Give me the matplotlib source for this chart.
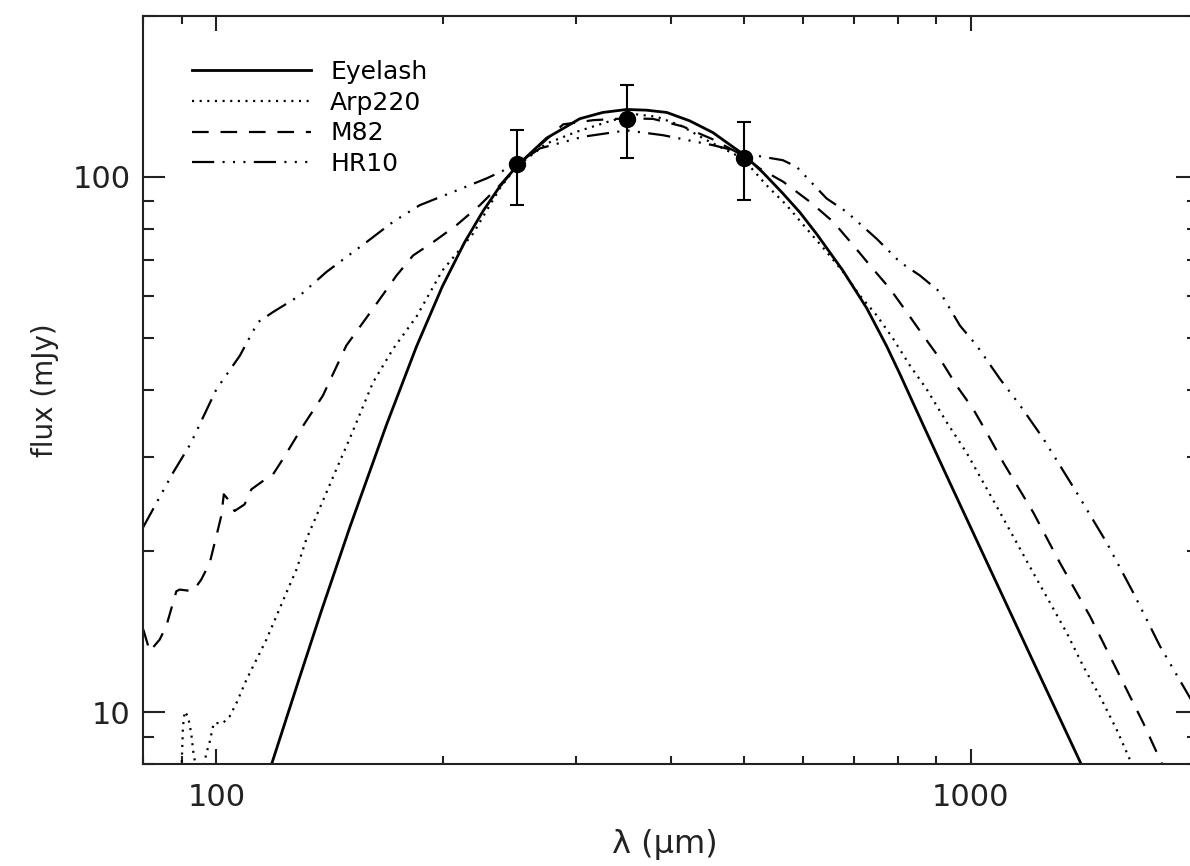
import matplotlib
matplotlib.use("Agg")
from matplotlib import pyplot as plt
from matplotlib import ticker
import numpy as np

# SED templates scaled to the Eyelash photometry (wavelength in micron, flux in mJy)
eyelash_wl = [117.7, 129.0, 137.8, 150.2, 168.1, 184.2, 199.3, 213.5, 225.7, 237.5,
              250.0, 274.0, 303.3, 325.3, 350.0, 371.7, 395.4, 424.3, 455.1, 498.9,
              530.3, 563.7, 593.8, 624.9, 677.0, 727.8, 773.6, 805.8, 835.3, 869.9,
              938.7, 1071.5, 1209.6, 1379.6, 1418.0]
eyelash_flux = [7.80, 11.64, 15.46, 22.10, 34.43, 48.19, 62.37, 75.6, 86.3, 95.9,
                104.7, 118.1, 128.4, 131.9, 133.6, 133.2, 131.9, 127.2, 121.0, 110.3,
                101.9, 93.1, 85.8, 78.2, 66.8, 56.9, 48.3, 42.8, 38.3, 33.8,
                26.8, 17.96, 12.45, 8.38, 7.71]

arp_wl = [89.9, 90.3, 90.8, 91.7, 92.6, 93.3, 94.2, 96.0, 97.0, 98.0, 99.2, 102.0,
          104.1, 106.3, 109.6, 113.0, 116.5, 120.1, 123.8, 127.7, 131.6, 135.7,
          139.9, 144.2, 150.2, 161.3, 171.5, 184.2, 199.3, 218.9, 237.5, 250.0,
          274.0, 300.3, 335.7, 360.6, 383.4, 411.6, 446.5, 498.9, 536.4, 570.2,
          606.0, 644.2, 677.6, 713.2, 750.6, 789.5, 830.8, 874.4, 929.3, 987.9,
          1039.2, 1093.8, 1150.9, 1210.6, 1274.2, 1340.9, 1410.6, 1484.4, 1561.7,
          1626.6, 1651.7]
arp_flux = [7.8, 9.40, 10.03, 9.81, 9.14, 8.32, 7.8, 7.8, 8.38, 8.81, 9.54, 9.54,
            9.81, 10.39, 11.49, 12.53, 13.66, 15.1, 16.7, 18.47, 21.03, 23.25,
            25.7, 28.4, 32.4, 41.3, 47.7, 54.8, 66.8, 78.3, 95.1, 104.5,
            115.4, 121.4, 127.6, 130.8, 129.5, 124.9, 117.1, 108.2, 96.4, 88.5,
            80.0, 72.4, 66.4, 60.0, 55.1, 49.8, 44.4, 40.1, 34.8, 30.5,
            26.85, 23.6, 20.72, 18.2, 16.0, 14.06, 12.17, 10.69, 9.27,
            8.14, 7.8]

m82_wl = [80.0, 81.6, 84.1, 85.8, 88.5, 89.4, 93.1, 95.5, 98.0, 100.0, 101.5, 102.3,
          103.6, 105.7, 109.0, 111.3, 115.3, 118.9, 122.5, 130.3, 138.4, 148.7,
          161.3, 173.3, 182.3, 193.8, 208.1, 223.5, 237.5, 250.0, 288.2, 315.8,
          350.0, 379.3, 415.3, 455.1, 498.9, 525.5, 564.3, 612.3, 657.3, 698.8,
          735.4, 781.6, 822.5, 865.3, 910.7, 958.2, 1008.0, 1050.0, 1104.6, 1210.6,
          1313.3, 1439.6, 1561.7, 1693.8, 1793.4, 1820.0]
m82_flux = [14.27, 12.99, 13.66, 14.46, 16.82, 16.94, 16.82, 17.69, 19.01, 21.33, 23.25,
            25.52, 24.98, 23.75, 24.44, 26.08, 27.03, 27.82, 29.69, 34.26, 39.0,
            48.4, 56.7, 65.4, 71.3, 75.5, 81.2, 88.5, 96.4, 104.5, 125.3, 127.6,
            128.6, 128.3, 124.2, 117.5, 109.6, 103.6, 97.9, 89.8, 82.4, 74.5,
            68.3, 61.8, 55.9, 50.5, 45.7, 40.7, 36.8, 33.3, 29.26, 23.6,
            19.0, 15.1, 12.0, 9.54, 8.0, 7.7]

hr10_wl = [79.9, 83.3, 87.6, 92.4, 100.0, 107.4, 113.5, 118.9, 129.0, 139.9, 158.1,
           171.5, 186.0, 205.9, 228.1, 250.0, 268.5, 306.1, 350.0, 390.9, 455.1,
           514.4, 563.7, 587.8, 644.2, 684.6, 750.6, 805.8, 856.6, 910.7, 968.0,
           1018.5, 1093.8, 1162.9, 1248.6, 1382.4, 1515.4, 1643.2, 1782.8, 1914.2,
           2000.0]
hr10_flux = [22.1, 24.6, 28.0, 31.7, 40.1, 46.3, 53.5, 55.9, 60.0, 66.4, 75.5,
             82.4, 88.5, 93.7, 99.3, 105.5, 113.0, 118.8, 122.1, 119.6, 114.6,
             109.8, 107.4, 104.4, 91.1, 86.0, 76.6, 69.3, 65.4, 60.9, 52.7,
             48.4, 41.9, 37.4, 32.4, 25.7, 20.7, 16.7, 13.27, 11.17,
             10.04]

# BLAST photometry
obs_wl = [250, 350, 500]
obs_flux = [105.5, 128.2, 108.5]
obs_err = [17, 20, 18]

plt.rcParams['font.family'] = ['DejaVu Sans']
plt.rcParams['lines.scale_dashes'] = False

fig = plt.figure(figsize=(11.9, 8.66), dpi=100)
ax = fig.add_axes([0.1204, 0.1178, 0.8861, 0.8641])

lw = 1.6
ax.plot(eyelash_wl, eyelash_flux, color='black', lw=2.0, label='Eyelash')
ax.plot(arp_wl, arp_flux, color='black', lw=lw, linestyle=(0, (1.5, 4.0)), label='Arp220')
ax.plot(m82_wl, m82_flux, color='black', lw=lw, linestyle=(0, (12, 8.5)), label='M82')
ax.plot(hr10_wl, hr10_flux, color='black', lw=lw,
        linestyle=(0, (16, 6, 1.5, 6, 1.5, 6, 1.5, 6)), label='HR10')

ax.errorbar(obs_wl, obs_flux, yerr=obs_err, fmt='o', color='black', ms=11.5,
            elinewidth=1.5, capsize=4.8, capthick=1.5)

ax.set_xscale('log')
ax.set_yscale('log')
ax.set_xlim(80, 2000)
ax.set_ylim(8, 200)

ax.xaxis.set_major_locator(ticker.FixedLocator([100, 1000]))
ax.yaxis.set_major_locator(ticker.FixedLocator([10, 100]))
ax.xaxis.set_major_formatter(ticker.FormatStrFormatter('%d'))
ax.yaxis.set_major_formatter(ticker.FormatStrFormatter('%d'))
ax.xaxis.set_minor_locator(ticker.LogLocator(base=10, subs=np.arange(2, 10)))
ax.yaxis.set_minor_locator(ticker.LogLocator(base=10, subs=np.arange(2, 10)))
ax.xaxis.set_minor_formatter(ticker.NullFormatter())
ax.yaxis.set_minor_formatter(ticker.NullFormatter())

ax.tick_params(which='both', direction='in', top=True, right=True, width=1.5,
               labelsize=22, colors='#222222')
ax.tick_params(axis='x', which='major', length=11, pad=14)
ax.tick_params(axis='x', which='minor', length=5.5)
ax.tick_params(axis='y', which='major', length=15.5, pad=9)
ax.tick_params(axis='y', which='minor', length=8)
for s in ax.spines.values():
    s.set_linewidth(1.5)
    s.set_color('#222222')

fig.text(45 / 1190, 1 - 390 / 866, 'flux (mJy)', rotation=90, ha='center',
         va='center', fontsize=20, color='#222222')
fig.text(665 / 1190, 1 - 845 / 866, 'λ (μm)', ha='center', va='center',
         fontsize=23, color='#222222')

leg = ax.legend(loc='upper left', bbox_to_anchor=(0.046, 0.941), frameon=False,
                fontsize=18, handlelength=4.75, handletextpad=0.78,
                labelspacing=0.27, borderpad=0, borderaxespad=0)

fig.savefig('out.png', dpi=100)
